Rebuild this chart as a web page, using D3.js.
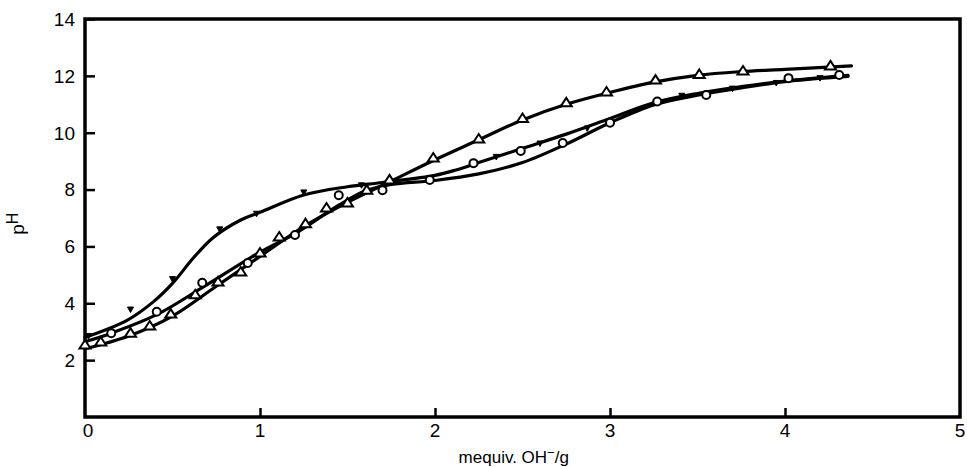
<!DOCTYPE html>
<html><head><meta charset="utf-8">
<script src="https://cdn.jsdelivr.net/npm/d3@7"></script>
<style>body{margin:0;background:#fff}svg{display:block}</style>
</head><body>
<script>
const xTicks = [0, 1, 2, 3, 4, 5];
const yTicks = [2, 4, 6, 8, 10, 12, 14];

// smooth fitted curves (x = mequiv OH-/g, y = pH)
const curveV = [[0,2.8],[0.24,3.4],[0.39,4.05],[0.5,4.7],[0.62,5.6],[0.73,6.3],[0.89,6.93],[1.0,7.2],[1.25,7.81],[1.5,8.1],[1.7,8.25],[2.0,8.5],[2.12,8.69],[2.25,8.95],[2.5,9.45],[2.75,9.95],[3.0,10.5],[3.25,11.05],[3.5,11.38],[3.75,11.62],[4.0,11.82],[4.36,12.02]];
const curveC = [[0,2.65],[0.15,2.95],[0.41,3.6],[0.67,4.55],[1.0,5.8],[1.2,6.45],[1.45,7.45],[1.6,7.95],[1.75,8.18],[2.0,8.32],[2.25,8.55],[2.5,8.95],[2.75,9.6],[3.0,10.35],[3.25,10.98],[3.5,11.32],[3.75,11.58],[4.0,11.8],[4.36,11.98]];
const curveT = [[0,2.4],[0.25,2.85],[0.5,3.55],[0.75,4.6],[1.0,5.65],[1.25,6.7],[1.5,7.55],[1.75,8.3],[2.0,9.05],[2.25,9.75],[2.5,10.45],[2.75,11.0],[3.0,11.42],[3.25,11.78],[3.5,12.02],[3.75,12.15],[4.0,12.23],[4.38,12.35]];

// measured points
const ptsT = [[0,2.53],[0.09,2.64],[0.26,2.95],[0.37,3.2],[0.49,3.62],[0.63,4.3],[0.76,4.75],[0.89,5.1],[1.0,5.77],[1.11,6.33],[1.26,6.8],[1.38,7.35],[1.5,7.53],[1.61,7.98],[1.74,8.34],[1.99,9.11],[2.25,9.78],[2.5,10.5],[2.75,11.05],[2.98,11.43],[3.26,11.85],[3.51,12.05],[3.76,12.17],[4.26,12.35]];
const ptsC = [[0.15,2.95],[0.41,3.7],[0.67,4.72],[0.93,5.42],[1.2,6.4],[1.45,7.8],[1.7,7.98],[1.97,8.34],[2.22,8.93],[2.49,9.36],[2.73,9.64],[3.0,10.35],[3.27,11.1],[3.55,11.33],[4.02,11.92],[4.31,12.03]];
const ptsV = [[0.02,2.85],[0.26,3.78],[0.5,4.85],[0.77,6.6],[0.98,7.15],[1.25,7.9],[1.58,8.15],[2.35,9.15],[2.6,9.62],[2.87,10.15],[3.41,11.3],[3.7,11.55],[3.95,11.75],[4.2,11.92]];

const W = 967, H = 467;
const L = 85, R = 960, T = 19, B = 417;
const svg = d3.select("body").append("svg").attr("width", W).attr("height", H);
const x = d3.scaleLinear().domain([0, 5]).range([L, R]);
const y = d3.scaleLinear().domain([0, 14]).range([B, T]);
const font = "'Liberation Sans', Arial, sans-serif";

// frame
svg.append("rect").attr("x", L).attr("y", T).attr("width", R - L).attr("height", B - T)
  .attr("fill", "none").attr("stroke", "#000").attr("stroke-width", 3.5);

// y axis ticks inward
const yAx = svg.append("g").attr("transform", `translate(${L},0)`)
  .call(d3.axisRight(y).tickValues(yTicks).tickSize(10).tickFormat(""));
yAx.select(".domain").remove();
yAx.selectAll("line").attr("stroke", "#000").attr("stroke-width", 2.5);
svg.append("g").selectAll("text").data(yTicks).join("text")
  .attr("x", L - 10).attr("y", d => y(d)).attr("dy", "0.36em")
  .attr("text-anchor", "end").attr("font-family", font).attr("font-size", 19)
  .text(d => d);

// x axis ticks inward
const xAx = svg.append("g").attr("transform", `translate(0,${B})`)
  .call(d3.axisTop(x).tickValues(xTicks.slice(1, -1)).tickSize(9).tickFormat(""));
xAx.select(".domain").remove();
xAx.selectAll("line").attr("stroke", "#000").attr("stroke-width", 2.5);
svg.append("g").selectAll("text").data(xTicks).join("text")
  .attr("x", d => x(d) + (d === 0 ? 3 : 0)).attr("y", B + 20)
  .attr("text-anchor", "middle").attr("font-family", font).attr("font-size", 19)
  .text(d => d);

// axis titles
const xl = svg.append("text").attr("x", x(2.45)).attr("y", B + 46).attr("text-anchor", "middle")
  .attr("font-family", font).attr("font-size", 17);
xl.append("tspan").text("mequiv. OH");
xl.append("tspan").attr("dy", -6).attr("font-size", 13).text("\u2212");
xl.append("tspan").attr("dy", 6).text("/g");

const yl = svg.append("text").attr("transform", `translate(24,${y(6.8)}) rotate(-90)`)
  .attr("text-anchor", "middle").attr("font-family", font).attr("font-size", 19);
yl.append("tspan").text("p");
yl.append("tspan").attr("dy", -6).attr("font-size", 16).text("H");

// curves
const line = d3.line().x(d => x(d[0])).y(d => y(d[1])).curve(d3.curveCatmullRom.alpha(0.5));
[curveV, curveC, curveT].forEach(c => {
  svg.append("path").attr("d", line(c)).attr("fill", "none")
    .attr("stroke", "#000").attr("stroke-width", 3.2).attr("stroke-linecap", "round");
});

// markers
svg.append("g").selectAll("path").data(ptsT).join("path")
  .attr("transform", d => `translate(${x(d[0])},${y(d[1])})`)
  .attr("d", "M0,-5L5.5,3.5L-5.5,3.5Z")
  .attr("fill", "#fff").attr("stroke", "#000").attr("stroke-width", 2);
svg.append("g").selectAll("circle").data(ptsC).join("circle")
  .attr("cx", d => x(d[0])).attr("cy", d => y(d[1])).attr("r", 4)
  .attr("fill", "#fff").attr("stroke", "#000").attr("stroke-width", 2);
svg.append("g").selectAll("path").data(ptsV).join("path")
  .attr("transform", d => `translate(${x(d[0])},${y(d[1])})`)
  .attr("d", "M-3,-2.5L3,-2.5L0,3Z")
  .attr("fill", "#000").attr("stroke", "#000").attr("stroke-width", 1);
</script>
</body></html>
